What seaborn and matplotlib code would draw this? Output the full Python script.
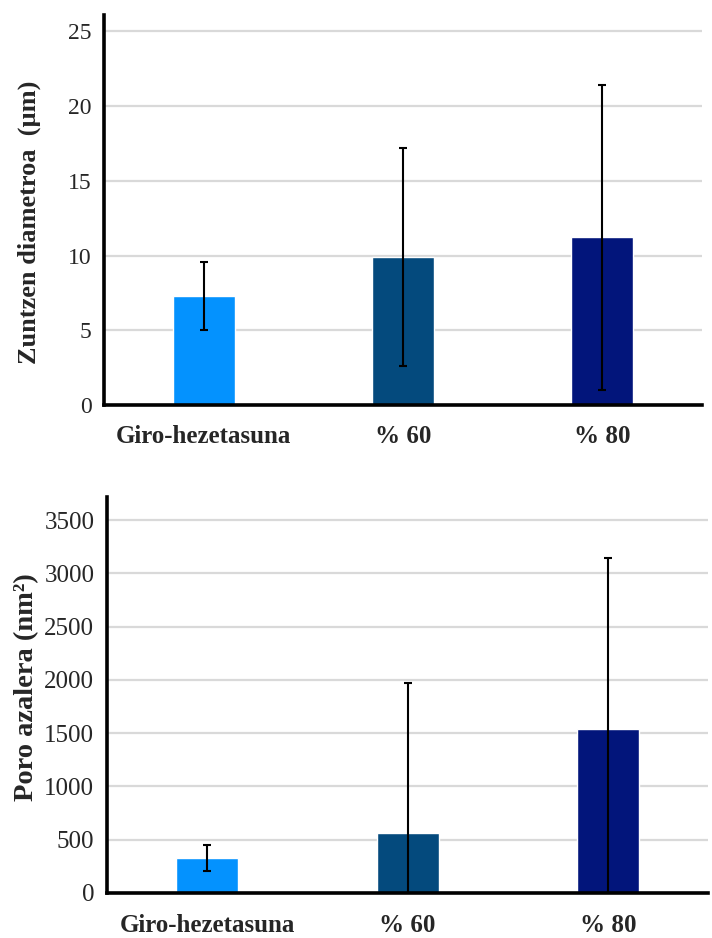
import numpy as np
import pandas as pd
import matplotlib
matplotlib.use('Agg')
import matplotlib.pyplot as plt
import seaborn as sns

# values
categories = ['Giro-hezetasuna', '% 60', '% 80']
bar_colors = ['#0492FE', '#044A7D', '#02157B']

diameter_mean = [7.3, 9.9, 11.25]
diameter_err = [2.25, 7.3, 10.2]

pore_mean = [330, 562, 1540]
pore_err = [120, 1405, 1605]

sns.set_style('white')
plt.rcParams['font.family'] = ['Liberation Serif', 'DejaVu Serif']

fig = plt.figure(figsize=(7.12, 9.38), dpi=100)
ax1 = fig.add_axes([0.146, 0.568, 0.84, 0.416])
ax2 = fig.add_axes([0.150, 0.048, 0.845, 0.422])


def draw_panel(ax, means, errs, ylim, yticks, ylabel, label_xy, tsize, lsize, xsize, xpad):
    df = pd.DataFrame({'cat': categories, 'val': means})
    sns.barplot(data=df, x='cat', y='val', hue='cat', palette=bar_colors,
                legend=False, width=0.31, saturation=1, ax=ax)
    ax.errorbar(np.arange(len(categories)), means, yerr=errs, fmt='none',
                ecolor='black', elinewidth=1.5, capsize=3, capthick=1.5, zorder=5)
    ax.set_xlim(-0.5, 2.5)
    ax.set_ylim(*ylim)
    ax.set_yticks(yticks)
    ax.yaxis.grid(True, color='#d9d9d9', linewidth=1.6)
    ax.set_axisbelow(True)
    for s in ['top', 'right']:
        ax.spines[s].set_visible(False)
    for s in ['left', 'bottom']:
        ax.spines[s].set_linewidth(2.6)
        ax.spines[s].set_color('black')
    ax.set_xlabel('')
    ax.set_ylabel(ylabel, fontsize=lsize, fontweight='bold')
    ax.yaxis.set_label_coords(*label_xy)
    ax.tick_params(axis='y', length=0, pad=9, labelsize=tsize)
    ax.tick_params(axis='x', length=0, pad=xpad, labelsize=xsize)
    for t in ax.get_xticklabels():
        t.set_fontweight('bold')
    ax.set_xticks([0.5, 1.5, 2.5], minor=True)
    ax.tick_params(axis='x', which='minor', length=4, color='#cccccc', width=1)


draw_panel(ax1, diameter_mean, diameter_err, (0, 26.1), [0, 5, 10, 15, 20, 25],
           'Zuntzen diametroa  (µm)', (-0.106, 0.47), 17, 19, 18, 14)
draw_panel(ax2, pore_mean, pore_err, (0, 3715), np.arange(0, 3501, 500),
           'Poro azalera (nm²)', (-0.113, 0.52), 18, 20.5, 18, 15)

fig.savefig('out.png', dpi=100)
